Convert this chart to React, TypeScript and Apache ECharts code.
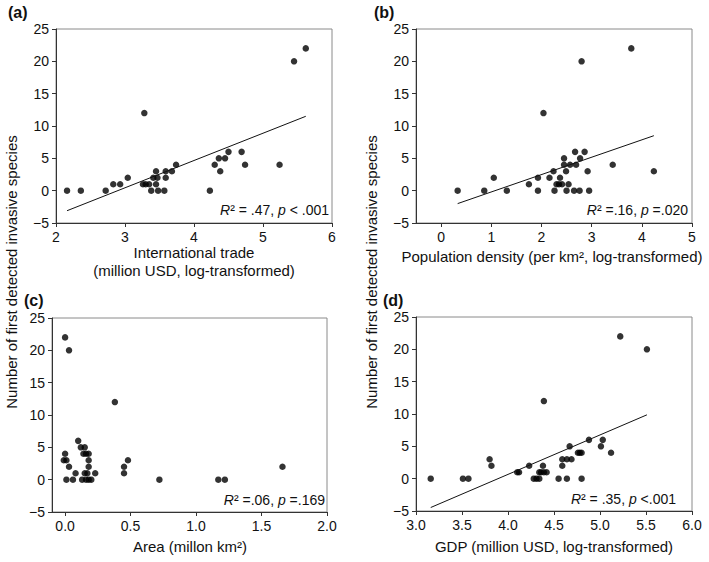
import React, { useEffect, useRef } from "react";
import * as echarts from "echarts";

// Panel (a): International trade vs number of species
const tradeX = [2.16, 2.36, 2.72, 2.83, 2.93, 3.04, 3.28, 3.26, 3.3, 3.35, 3.38, 3.41, 3.45, 3.45, 3.47, 3.48, 3.57, 3.59, 3.59, 3.68, 3.74, 4.23, 4.3, 4.36, 4.38, 4.45, 4.5, 4.69, 4.74, 5.24, 5.45, 5.62];
const tradeY = [0, 0, 0, 1, 1, 2, 12, 1, 1, 1, 0, 2, 3, 1, 2, 0, 0, 3, 2, 3, 4, 0, 4, 5, 3, 5, 6, 6, 4, 4, 20, 22];
const trendA = [[2.16, -3.1], [5.62, 11.5]];

// Panel (b): Population density
const popX = [0.33, 0.86, 1.05, 1.31, 1.75, 1.93, 1.93, 2.04, 2.16, 2.24, 2.26, 2.3, 2.35, 2.37, 2.41, 2.45, 2.45, 2.49, 2.5, 2.54, 2.57, 2.65, 2.67, 2.69, 2.76, 2.77, 2.8, 2.86, 2.92, 2.95, 3.42, 3.79, 4.24];
const popY = [0, 0, 2, 0, 1, 2, 0, 12, 2, 3, 0, 1, 1, 2, 1, 5, 4, 3, 0, 1, 4, 0, 6, 4, 0, 5, 20, 6, 3, 0, 4, 22, 3];
const trendB = [[0.33, -2.0], [4.24, 8.5]];

// Panel (c): Area
const areaX = [0.0, 0.03, 0.0, -0.01, 0.01, 0.03, 0.01, 0.06, 0.08, 0.1, 0.12, 0.15, 0.14, 0.16, 0.18, 0.18, 0.18, 0.13, 0.16, 0.18, 0.2, 0.15, 0.17, 0.23, 0.38, 0.45, 0.45, 0.48, 0.72, 1.17, 1.22, 1.66];
const areaY = [22, 20, 4, 3, 3, 2, 0, 0, 1, 6, 5, 5, 4, 4, 4, 3, 2, 0, 0, 0, 0, 1, 1, 1, 12, 2, 1, 3, 0, 0, 0, 2];

// Panel (d): GDP
const gdpX = [3.16, 3.51, 3.57, 3.8, 3.82, 4.1, 4.12, 4.23, 4.28, 4.31, 4.34, 4.34, 4.36, 4.39, 4.42, 4.38, 4.39, 4.55, 4.59, 4.59, 4.64, 4.64, 4.67, 4.69, 4.76, 4.78, 4.8, 4.8, 4.88, 5.01, 5.03, 5.12, 5.22, 5.51];
const gdpY = [0, 0, 0, 3, 2, 1, 1, 2, 0, 0, 0, 1, 1, 1, 1, 2, 12, 0, 3, 2, 0, 3, 5, 3, 4, 4, 4, 0, 6, 5, 6, 4, 22, 20];
const trendD = [[3.16, -4.46], [5.51, 9.87]];

const yTicks = [-5, 0, 5, 10, 15, 20, 25];
const bTicks = [0, 1, 2, 3, 4, 5];
const cTicks = [0, 0.5, 1.0, 1.5, 2.0];

const FONT = "'Liberation Sans', Arial, sans-serif";
const yTitle = "Number of first detected invasive species";

const zip = (xs: number[], ys: number[]) => xs.map((x, i) => [x, ys[i]]);
const minus = (v: number | string) => String(v).replace("-", "\u2212");

export default function App() {
  const ref = useRef<HTMLDivElement>(null);
  useEffect(() => {
    const chart = echarts.init(ref.current!, null, { renderer: "svg" });
    const grids = [
      { left: 56, top: 29, width: 276, height: 194 },
      { left: 416, top: 29, width: 276, height: 194 },
      { left: 52, top: 318, width: 275, height: 194 },
      { left: 416, top: 317, width: 276, height: 194 },
    ].map((g) => ({ ...g, show: true, borderColor: "#8a8a8a", borderWidth: 1 }));

    const axisCommon = {
      axisLine: { show: true, onZero: false, lineStyle: { color: "#333", width: 1 } },
      axisTick: { show: true, inside: false, length: 4, lineStyle: { color: "#333" } },
      splitLine: { show: false },
      axisLabel: { color: "#111", fontSize: 14, fontFamily: FONT, margin: 7 },
    };

    const xAxes = [
      { ...axisCommon, type: "value", gridIndex: 0, min: 2, max: 6, interval: 1 },
      {
        ...axisCommon, type: "value", gridIndex: 1, min: -0.5, max: 5,
        axisTick: { ...axisCommon.axisTick, customValues: bTicks },
        axisLabel: { ...axisCommon.axisLabel, customValues: bTicks },
      },
      {
        ...axisCommon, type: "value", gridIndex: 2, min: -0.1, max: 2.0,
        axisTick: { ...axisCommon.axisTick, customValues: cTicks },
        axisLabel: { ...axisCommon.axisLabel, customValues: cTicks, formatter: (v: number) => v.toFixed(1) },
      },
      {
        ...axisCommon, type: "value", gridIndex: 3, min: 3, max: 6, interval: 0.5,
        axisLabel: { ...axisCommon.axisLabel, formatter: (v: number) => v.toFixed(1) },
      },
    ];
    const yAxes = [0, 1, 2, 3].map((i) => ({
      ...axisCommon, type: "value", gridIndex: i, min: yTicks[0], max: yTicks[yTicks.length - 1], interval: 5,
      axisLabel: { ...axisCommon.axisLabel, formatter: (v: number) => minus(v) },
    }));

    const scat = (i: number, data: number[][]) => ({
      type: "scatter", xAxisIndex: i, yAxisIndex: i, data, symbolSize: 6.5,
      itemStyle: { color: "#000" }, silent: true,
    });
    const trend = (i: number, data: number[][]) => ({
      type: "line", xAxisIndex: i, yAxisIndex: i, data, showSymbol: false, symbol: "none",
      lineStyle: { color: "#111", width: 1 }, silent: true,
    });

    const txt = (x: number, y: number, text: string, extra: any = {}, rotation = 0) => ({
      type: "text", x, y, rotation, silent: true,
      style: { text, fontFamily: FONT, fontSize: 15, fill: "#111", align: "center", verticalAlign: "middle", ...extra },
    });
    const rich = { i: { fontStyle: "italic", fontFamily: FONT, fontSize: 14, fill: "#111" } };
    const ann = (x: number, y: number, text: string) => ({
      type: "text", x, y, silent: true,
      style: { text, rich, fontFamily: FONT, fontSize: 14, fill: "#111", align: "right", verticalAlign: "middle" },
    });
    const bold = { fontWeight: "bold", fontSize: 16, align: "left" };
    const R = Math.PI / 2;

    chart.setOption({
      animation: false,
      grid: grids,
      xAxis: xAxes,
      yAxis: yAxes,
      series: [
        scat(0, zip(tradeX, tradeY)), trend(0, trendA),
        scat(1, zip(popX, popY)), trend(1, trendB),
        scat(2, zip(areaX, areaY)),
        scat(3, zip(gdpX, gdpY)), trend(3, trendD),
      ],
      graphic: [
        txt(8, 12, "(a)", bold),
        txt(374, 12, "(b)", bold),
        txt(24, 300, "(c)", bold),
        txt(383, 300, "(d)", bold),
        txt(11, 272, yTitle, {}, R),
        txt(371, 272, yTitle, {}, R),
        txt(194, 252, "International trade"),
        txt(194, 270, "(million USD, log-transformed)"),
        txt(552, 256, "Population density (per km\u00b2, log-transformed)"),
        txt(190, 546, "Area (millon km\u00b2)"),
        txt(554, 546, "GDP (million USD, log-transformed)"),
        ann(329, 210, "{i|R}\u00b2 = .47, {i|p} < .001"),
        ann(688, 210, "{i|R}\u00b2 =.16, {i|p} =.020"),
        ann(325, 500, "{i|R}\u00b2 =.06, {i|p} =.169"),
        ann(676, 499, "{i|R}\u00b2 = .35, {i|p} <.001"),
      ],
    });
    return () => chart.dispose();
  }, []);
  return (
    <div
      ref={ref}
      style={{ position: "fixed", left: 0, top: 0, width: 709, height: 562, background: "#fff" }}
    />
  );
}
